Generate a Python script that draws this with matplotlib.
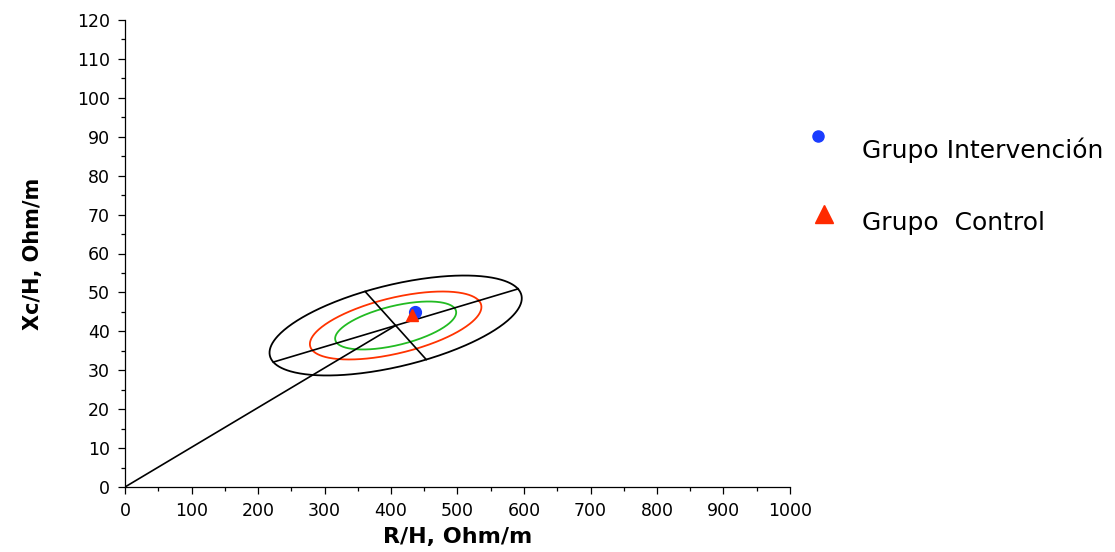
import numpy as np
import matplotlib
matplotlib.use("Agg")
import matplotlib.pyplot as plt
from matplotlib.ticker import MultipleLocator
from matplotlib.lines import Line2D

plt.rcParams['font.family'] = ['DejaVu Sans']

# group means (R/H, Xc/H)
groups = ["Grupo Intervención", "Grupo  Control"]
mean_r = [436, 431]
mean_xc = [45.0, 44.2]

# reference ellipse: centre and conjugate semi-axes (95% ellipse)
centre = [407, 41.5]
major_half = [184, 9.4]
minor_half = [-46, 8.75]
# relative size of the 95%, 75% and 50% tolerance ellipses
levels = [1.0, 0.68, 0.48]
level_colors = ["black", "#ff3300", "#22bb22"]

fig = plt.figure(figsize=(11.15, 5.52), dpi=100)
ax = fig.add_axes([125 / 1115, 1 - 487 / 552, 665 / 1115, 467 / 552])

t = np.linspace(0, 2 * np.pi, 400)
for s, col in zip(levels, level_colors):
    ex = centre[0] + s * (major_half[0] * np.cos(t) + minor_half[0] * np.sin(t))
    ey = centre[1] + s * (major_half[1] * np.cos(t) + minor_half[1] * np.sin(t))
    ax.plot(ex, ey, color=col, lw=1.3)

# axes of the ellipse and the line from the origin
ax.plot([centre[0] - major_half[0], centre[0] + major_half[0]],
        [centre[1] - major_half[1], centre[1] + major_half[1]], color="black", lw=1.2)
ax.plot([centre[0] - minor_half[0], centre[0] + minor_half[0]],
        [centre[1] - minor_half[1], centre[1] + minor_half[1]], color="black", lw=1.2)
ax.plot([0, centre[0]], [0, centre[1]], color="black", lw=1.2)

ax.plot(mean_r[0], mean_xc[0], "o", color="#1a3cff", ms=8.5, zorder=5)
ax.plot(mean_r[1], mean_xc[1], "^", color="#ff2a00", ms=9, zorder=6)

ax.set_xlim(0, 1000)
ax.set_ylim(0, 120)
ax.xaxis.set_major_locator(MultipleLocator(100))
ax.xaxis.set_minor_locator(MultipleLocator(50))
ax.yaxis.set_major_locator(MultipleLocator(10))
ax.yaxis.set_minor_locator(MultipleLocator(5))
for side in ["top", "right"]:
    ax.spines[side].set_visible(False)
for side in ["left", "bottom"]:
    ax.spines[side].set_linewidth(0.9)
ax.tick_params(which="major", length=5, width=0.9, labelsize=12.5, pad=6)
ax.tick_params(which="minor", length=3, width=0.9)

ax.set_xlabel("R/H, Ohm/m", fontsize=16, fontweight="bold", labelpad=5)
ax.set_ylabel("Xc/H, Ohm/m", fontsize=15, fontweight="bold", labelpad=24)

# legend drawn by hand
fig.add_artist(Line2D([818 / 1115], [1 - 136 / 552], marker="o", color="#1a3cff",
                      ms=8, transform=fig.transFigure))
fig.add_artist(Line2D([824 / 1115], [1 - 214 / 552], marker="^", color="#ff2a00",
                      ms=13, transform=fig.transFigure))
fig.text(862 / 1115, 1 - 150 / 552, groups[0], fontsize=18, va="center")
fig.text(862 / 1115, 1 - 223 / 552, groups[1], fontsize=18, va="center")

fig.savefig("out.png", dpi=100)
